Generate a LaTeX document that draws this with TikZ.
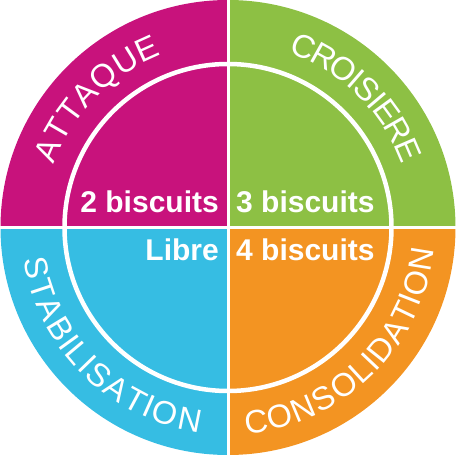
\documentclass[tikz,border=0pt]{standalone}
\usepackage{fontspec}
\setmainfont{Liberation Sans}
\usetikzlibrary{decorations.text}
\definecolor{colorAttaque}{HTML}{C8127C}
\definecolor{colorCroisiere}{HTML}{8DC044}
\definecolor{colorStabil}{HTML}{36BDE3}
\definecolor{colorConsol}{HTML}{F39422}
\newcommand{\arcfont}{\fontsize{32.5bp}{32.5bp}\selectfont}

\begin{document}
\begin{tikzpicture}[x=1bp, y=1bp,
        phase/.style={text=white, font=\bfseries\fontsize{30bp}{30bp}\selectfont, inner sep=0pt},
        arctext/.style={decorate, decoration={text effects along path, text={#1},
            text effects/.cd, fit text to path, characters={text along path, text=white, font=\arcfont}}},
        sep/.style={white, line width=3bp}]
    \useasboundingbox (-228,-227.5) rectangle (228,227.5);
    % quarters
    \foreach \c/\a in {colorCroisiere/0, colorAttaque/90, colorStabil/180, colorConsol/270}
        \fill[\c] (0,0) -- (\a:227.5) arc (\a:\a+90:227.5) -- cycle;
    \draw[sep] (-229,0) -- (229,0);
    \draw[sep] (0,-229) -- (0,229);
    \draw[sep, line width=4.5bp] (0,0) circle (163.5);
    % phase names
    \path[arctext=ATTAQUE] (160:185) arc (160:111:185);
    \path[arctext=CROISIERE] (71:185) arc (71:20:185);
    \path[arctext=STABILISATION] (189:207) arc (189:262:207);
    \path[arctext=CONSOLIDATION] (275:207) arc (275:354:207);
    % biscuits
    \node[phase, anchor=base east] (attaque) at (-9,14.5) {2 biscuits};
    \node[phase, anchor=base west] (croisiere) at (8,14.5) {3 biscuits};
    \node[phase, anchor=base east] (stabil) at (-9,-33.5) {Libre};
    \node[phase, anchor=base west] (consol) at (8,-33.5) {4 biscuits};
\end{tikzpicture}
\end{document}
